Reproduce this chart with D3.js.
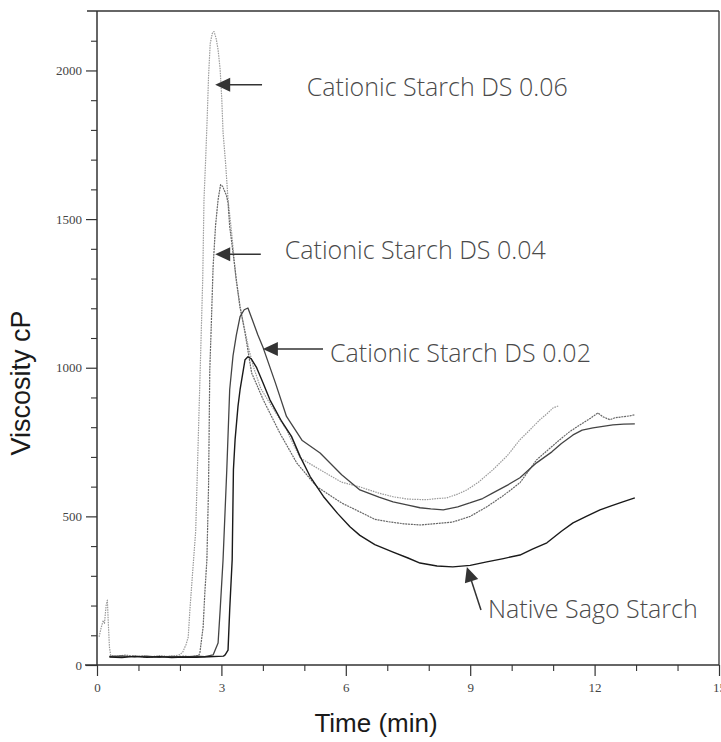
<!DOCTYPE html>
<html>
<head>
<meta charset="utf-8">
<script src="https://cdn.jsdelivr.net/npm/d3@7/dist/d3.min.js"></script>
<style>
  html, body { margin: 0; padding: 0; background: #fff; }
  svg { display: block; }
</style>
</head>
<body>
<svg id="chart" width="721" height="742"></svg>
<script>
// ---- Data (time in min, viscosity in cP) ----
const xTicks = [0, 3, 6, 9, 12, 15];
const yTicks = [0, 500, 1000, 1500, 2000];

const ds06 = [
  [0.05,95],[0.10,125],[0.15,150],[0.18,140],[0.22,200],[0.25,218],[0.27,150],[0.30,60],[0.33,32],
  [0.5,30],[0.7,34],[0.9,28],[1.1,31],[1.3,27],[1.5,32],[1.7,29],[1.9,31],[2.0,35],[2.07,44],
  [2.15,70],[2.2,94],[2.24,185],[2.30,300],[2.38,450],[2.45,800],[2.50,1050],[2.55,1300],[2.58,1565],
  [2.62,1700],[2.66,1850],[2.69,1980],[2.73,2090],[2.78,2125],[2.82,2131],[2.87,2110],[2.92,2070],
  [2.97,2003],[3.01,1902],[3.04,1791],[3.10,1690],[3.16,1566],[3.25,1450],[3.35,1300],[3.45,1200],
  [3.53,1150],[3.65,1070],[3.77,1004],[3.95,930],[4.17,880],[4.57,791],[4.9,696],[5.38,657],
  [5.9,615],[6.34,599],[6.8,578],[7.14,566],[7.5,558],[7.95,556],[8.2,560],[8.43,562],[8.7,575],
  [8.92,589],[9.2,615],[9.55,657],[9.9,705],[10.2,758],[10.37,781],[10.68,825],[10.85,845],
  [11.0,865],[11.14,872]
];

const ds04 = [
  [0.3,30],[0.6,27],[0.9,31],[1.2,26],[1.5,29],[1.8,27],[2.1,30],[2.3,28],[2.45,32],[2.48,40],
  [2.56,128],[2.60,242],[2.65,354],[2.69,600],[2.72,993],[2.75,1117],[2.8,1340],[2.86,1480],
  [2.92,1565],[2.98,1616],[3.03,1610],[3.06,1600],[3.12,1580],[3.16,1555],[3.20,1475],[3.28,1387],
  [3.37,1286],[3.45,1205],[3.57,1117],[3.73,982],[4.01,892],[4.41,780],[4.82,679],[5.3,600],
  [5.9,545],[6.34,515],[6.7,490],[7.07,481],[7.4,475],[7.79,471],[8.2,476],[8.58,481],[9.0,500],
  [9.4,532],[9.8,570],[10.2,613],[10.6,690],[11.16,758],[11.4,785],[11.65,808],[11.9,830],
  [12.08,848],[12.2,835],[12.37,825],[12.5,832],[12.68,835],[12.85,838],[12.97,842]
];

const ds02 = [
  [0.3,28],[0.6,31],[0.9,27],[1.2,30],[1.5,26],[1.8,29],[2.1,27],[2.4,30],[2.6,28],[2.8,34],
  [2.92,74],[2.97,185],[3.04,354],[3.13,657],[3.20,926],[3.28,1040],[3.36,1110],[3.45,1172],
  [3.55,1195],[3.64,1201],[3.75,1160],[3.88,1110],[4.01,1066],[4.3,950],[4.57,836],[4.95,755],
  [5.38,713],[5.9,640],[6.34,589],[6.8,565],[7.14,549],[7.5,538],[7.79,529],[8.05,525],[8.35,522],
  [8.7,532],[8.99,545],[9.3,560],[9.55,579],[9.9,605],[10.2,630],[10.6,680],[10.97,717],[11.2,745],
  [11.48,774],[11.7,790],[11.96,798],[12.2,803],[12.44,808],[12.7,810],[12.97,811]
];

const nativeSago = [
  [0.3,27],[0.6,25],[0.9,29],[1.2,26],[1.5,28],[1.8,25],[2.1,27],[2.4,26],[2.7,28],[3.05,30],
  [3.09,34],[3.16,50],[3.2,185],[3.26,354],[3.29,657],[3.33,758],[3.40,870],[3.45,926],[3.57,1027],
  [3.64,1037],[3.72,1030],[3.85,1000],[4.0,950],[4.17,892],[4.45,820],[4.69,769],[4.9,701],
  [5.14,634],[5.46,567],[5.8,510],[6.1,465],[6.34,436],[6.7,405],[7.14,380],[7.5,360],[7.79,343],
  [8.2,333],[8.58,330],[9.0,335],[9.4,347],[9.8,358],[10.2,370],[10.5,390],[10.85,411],[11.2,450],
  [11.48,478],[11.8,500],[12.13,522],[12.4,535],[12.68,549],[12.97,562]
];

const seriesNames = ["Cationic Starch DS 0.06", "Cationic Starch DS 0.04", "Cationic Starch DS 0.02", "Native Sago Starch"];

// annotation anchors in data units: arrow tip, arrow tail, label start (baseline)
const annTip   = [[2.85,1952],[2.85,1382],[4.00,1063],[8.92,330]];
const annTail  = [[3.98,1952],[3.95,1382],[5.45,1063],[9.26,185]];
const annLabel = [[5.06,1914],[4.53,1366],[5.62,1019],[9.43,158]];

// ---- Layout ----
const svg = d3.select("#chart");
const x = d3.scaleLinear().domain([0, 15]).range([97, 719]);
const y = d3.scaleLinear().domain([0, 2200]).range([665, 11]);

const axisColor = "#333";

// frame (top and right)
svg.append("line").attr("x1", x(0) - 10).attr("x2", x(15)).attr("y1", y(2200)).attr("y2", y(2200))
  .attr("stroke", axisColor).attr("stroke-width", 1.3);
svg.append("line").attr("x1", x(15)).attr("x2", x(15)).attr("y1", y(2200)).attr("y2", y(0))
  .attr("stroke", axisColor).attr("stroke-width", 1.3);

// y axis
const yAxis = d3.axisLeft(y).tickValues(yTicks).tickSize(11).tickPadding(4).tickFormat(d3.format("d"));
const gy = svg.append("g").attr("transform", `translate(${x(0)},0)`).call(yAxis);
gy.select(".domain").remove();
gy.append("line").attr("x1", 0).attr("x2", 0).attr("y1", y(2200)).attr("y2", y(0))
  .attr("stroke", axisColor).attr("stroke-width", 1.5);
gy.selectAll(".tick line").attr("stroke", axisColor).attr("stroke-width", 1.2);
gy.selectAll(".tick text").attr("font-family", "'Liberation Serif', serif").attr("font-size", 13).attr("fill", "#444");
const yMinor = d3.axisLeft(y).tickValues(d3.range(100, 2200, 100).filter(v => v % 500 !== 0)).tickSize(6).tickFormat("");
const gym = svg.append("g").attr("transform", `translate(${x(0)},0)`).call(yMinor);
gym.select(".domain").remove();
gym.selectAll(".tick line").attr("stroke", axisColor).attr("stroke-width", 1.1);

// x axis
const xAxis = d3.axisBottom(x).tickValues(xTicks).tickSize(11).tickPadding(7).tickFormat(d3.format("d"));
const gx = svg.append("g").attr("transform", `translate(0,${y(0)})`).call(xAxis);
gx.select(".domain").remove();
gx.append("line").attr("x1", x(0) - 12).attr("x2", x(15)).attr("y1", 0).attr("y2", 0)
  .attr("stroke", axisColor).attr("stroke-width", 1.5);
gx.selectAll(".tick line").attr("stroke", axisColor).attr("stroke-width", 1.2);
gx.selectAll(".tick text").attr("font-family", "'Liberation Serif', serif").attr("font-size", 13).attr("fill", "#444");
const xMinor = d3.axisBottom(x).tickValues(d3.range(1, 15, 1).filter(v => v % 3 !== 0)).tickSize(6).tickFormat("");
const gxm = svg.append("g").attr("transform", `translate(0,${y(0)})`).call(xMinor);
gxm.select(".domain").remove();
gxm.selectAll(".tick line").attr("stroke", axisColor).attr("stroke-width", 1.1);

// axis titles
svg.append("text").attr("x", 376).attr("y", 732).attr("text-anchor", "middle")
  .attr("font-family", "'Liberation Sans', Arial, sans-serif").attr("font-size", 26).attr("fill", "#1a1a1a")
  .text("Time (min)");
svg.append("text").attr("transform", "translate(30,383) rotate(-90)").attr("text-anchor", "middle")
  .attr("font-family", "'Liberation Sans', Arial, sans-serif").attr("font-size", 27).attr("fill", "#1a1a1a")
  .text("Viscosity cP");

// curves
const line = d3.line().x(d => x(d[0])).y(d => y(d[1]));
const curves = [
  { data: ds06, color: "#9a9a9a", width: 1.2, dash: "1.5,1" },
  { data: ds04, color: "#666", width: 1.2, dash: "2,0.8" },
  { data: ds02, color: "#444", width: 1.3, dash: null },
  { data: nativeSago, color: "#1a1a1a", width: 1.4, dash: null }
];
curves.forEach(c => {
  const p = svg.append("path").datum(c.data).attr("d", line)
    .attr("fill", "none").attr("stroke", c.color).attr("stroke-width", c.width)
    .attr("stroke-linejoin", "round");
  if (c.dash) p.attr("stroke-dasharray", c.dash);
});

// annotations
seriesNames.forEach((name, i) => {
  const tx = x(annTip[i][0]), ty = y(annTip[i][1]);
  const sx = x(annTail[i][0]), sy = y(annTail[i][1]);
  const ang = Math.atan2(sy - ty, sx - tx);
  const L = 15, W = 7;
  const bx = tx + L * Math.cos(ang), by = ty + L * Math.sin(ang);
  const px = -Math.sin(ang) * W, py = Math.cos(ang) * W;
  svg.append("line").attr("x1", bx - 2 * Math.cos(ang)).attr("y1", by - 2 * Math.sin(ang)).attr("x2", sx).attr("y2", sy)
    .attr("stroke", "#333").attr("stroke-width", 1.5);
  svg.append("path")
    .attr("d", `M${tx},${ty}L${bx + px},${by + py}L${bx - px},${by - py}Z`)
    .attr("fill", "#333");
  svg.append("text").attr("x", x(annLabel[i][0])).attr("y", y(annLabel[i][1]))
    .attr("font-family", "'Open Sans', 'DejaVu Sans', sans-serif").attr("font-weight", 300)
    .attr("font-size", 25).attr("fill", "#4a4a4a").text(name);
});
</script>
</body>
</html>
